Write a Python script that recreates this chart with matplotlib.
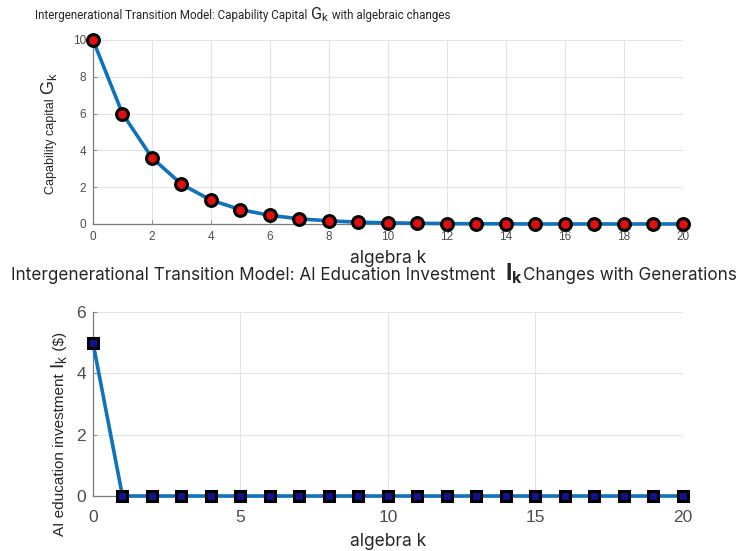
import matplotlib
matplotlib.use("Agg")
import matplotlib.pyplot as plt

# Generation index and model outputs
generations = list(range(21))
capability_capital = [10.0, 6.0, 3.6, 2.16, 1.3, 0.78, 0.47, 0.28, 0.17, 0.10,
                      0.06, 0.04, 0.02, 0.01, 0.01, 0.0, 0.0, 0.0, 0.0, 0.0, 0.0]
education_investment = [5.0] + [0.0] * 20

top_xticks = list(range(0, 21, 2))
top_yticks = list(range(0, 11, 2))
bottom_xticks = [0, 5, 10, 15, 20]
bottom_yticks = [0, 2, 4, 6]

LINE_BLUE = "#0f72bd"
TICK_GRAY = "#4d4d4d"
GRID_GRAY = "#e3e3e3"

fig = plt.figure(figsize=(7.39, 5.51), dpi=100)
fig.patch.set_facecolor("white")


def style_axes(ax, tick_size, pad):
    for side in ("top", "right"):
        ax.spines[side].set_visible(False)
    for side in ("left", "bottom"):
        ax.spines[side].set_color("#7a7a7a")
        ax.spines[side].set_linewidth(0.9)
    ax.grid(True, color=GRID_GRAY, linewidth=0.8)
    ax.set_axisbelow(True)
    ax.tick_params(direction="in", length=3, width=0.6, color="#7a7a7a",
                   labelcolor=TICK_GRAY, labelsize=tick_size, pad=pad)
    for lab in ax.get_xticklabels() + ax.get_yticklabels():
        lab.set_family("Liberation Sans")


def place_pieces(x, y, pieces, rotation=0, align="left", width_px=None):
    """Lay out a run of text pieces (text, size, family, weight) on one baseline."""
    renderer = fig.canvas.get_renderer()

    def measure(scale):
        ws = []
        for txt, size, fam, wt in pieces:
            t = fig.text(0, 0, txt, fontsize=size * scale, family=fam, weight=wt)
            ws.append(t.get_window_extent(renderer).width)
            t.remove()
        return ws

    scale = 1.0
    widths = measure(scale)
    if width_px is not None:
        scale = width_px / sum(widths)
        widths = measure(scale)
    total = sum(widths)
    W, H = fig.bbox.width, fig.bbox.height
    px, py = x * W, y * H
    if align == "center":
        if rotation == 0:
            px -= total / 2
        else:
            py -= total / 2
    for (txt, size, fam, wt), w in zip(pieces, widths):
        fig.text(px / W, py / H, txt, fontsize=size * scale, family=fam,
                 weight=wt, color="#262626", rotation=rotation,
                 rotation_mode="anchor", ha="left", va="baseline")
        if rotation == 0:
            px += w
        else:
            py += w


# ---- Capability capital over generations ----
ax1 = fig.add_axes([0.1258, 0.5935, 0.798, 0.334])
ax1.plot(generations, capability_capital, color=LINE_BLUE, linewidth=2.6,
         marker="o", markersize=8.5, markerfacecolor="#e01010",
         markeredgecolor="black", markeredgewidth=2.2, clip_on=False, zorder=3)
ax1.set_xlim(0, 20)
ax1.set_ylim(0, 10)
ax1.set_xticks(top_xticks)
ax1.set_yticks(top_yticks)
style_axes(ax1, 8.5, 5)
ax1.set_xlabel("algebra k", fontsize=12.5, family="Inter", color="#262626",
               labelpad=5)

# ---- AI education investment over generations ----
ax2 = fig.add_axes([0.1258, 0.0998, 0.798, 0.334])
ax2.plot(generations, education_investment, color=LINE_BLUE, linewidth=2.6,
         marker="s", markersize=7.5, markerfacecolor="#12128c",
         markeredgecolor="black", markeredgewidth=2.2, clip_on=False, zorder=3)
ax2.set_xlim(0, 20)
ax2.set_ylim(0, 6)
ax2.set_xticks(bottom_xticks)
ax2.set_yticks(bottom_yticks)
style_axes(ax2, 12.5, 5)
ax2.tick_params(axis="x", pad=10)
ax2.set_xlabel("algebra k", fontsize=12.5, family="Inter", color="#262626",
               labelpad=6)

fig.canvas.draw()

place_pieces(0.047, 1 - 19 / 551, [
    ("Intergenerational Transition Model: Capability Capital ", 10, "Roboto", "normal"),
    (r"$\mathregular{G_k}$", 14, "Roboto", "normal"),
    (" with algebraic changes", 10, "Roboto", "normal"),
], width_px=415)

place_pieces(0.506, 1 - 280 / 551, [
    ("Intergenerational Transition Model: AI Education Investment  ", 12, "Inter", "normal"),
    (r"$\mathregular{I_k}$", 16, "Inter", "bold"),
    ("Changes with Generations", 12, "Inter", "normal"),
], align="center", width_px=722)

place_pieces(54 / 739, 1 - 133 / 551, [
    ("Capability capital ", 9, "Liberation Sans", "normal"),
    (r"$\mathregular{G_k}$", 13, "Liberation Sans", "normal"),
], rotation=90, align="center")

place_pieces(64 / 739, 1 - 434 / 551, [
    ("AI education investment ", 11, "Liberation Sans", "normal"),
    (r"$\mathregular{I_k}$", 14, "Liberation Sans", "normal"),
    (" ($)", 11, "Liberation Sans", "normal"),
], rotation=90, align="center")

fig.savefig("out.png", dpi=100, facecolor="white")
